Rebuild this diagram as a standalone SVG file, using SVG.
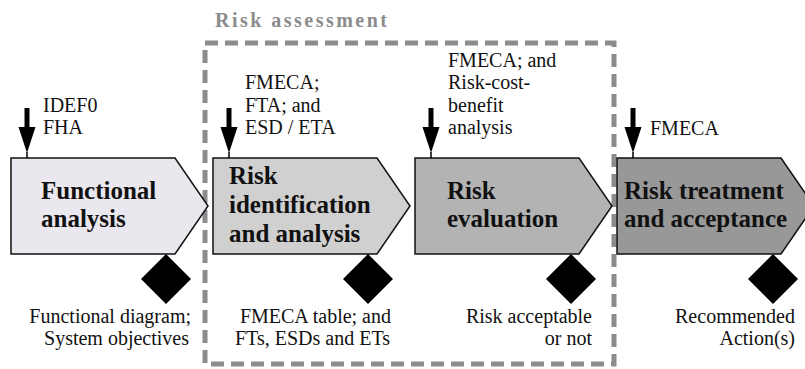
<svg xmlns="http://www.w3.org/2000/svg" xmlns:xlink="http://www.w3.org/1999/xlink" width="805" height="369" viewBox="0 0 805 369">
  <style>
    text { font-family: "Liberation Serif", "Liberation Sans", Arial, sans-serif; }
    .box { stroke: #111; stroke-width: 1.5; stroke-linejoin: miter; }
    .title { font-size: 25px; font-weight: bold; fill: #111; }
    .note { font-size: 20px; fill: #111; }
    .right { text-anchor: end; }
    .frame { fill: none; stroke: #8c8c8c; stroke-width: 5; stroke-dasharray: 13 7; }
    .frameLabel { font-size: 20px; font-weight: bold; fill: #8c8c8c; }
  </style>
  <defs>
    <!-- process step: rectangle with a pointed right end -->
    <path id="step" d="M0,0 H164 L197,48 L164,96 H0 Z"/>
    <!-- output marker -->
    <path id="outMark" d="M0,-25 L25,0 L0,25 L-25,0 Z" fill="#000"/>
    <!-- input arrow, drawn from its top (y=0) down to the step top (y=50) -->
    <g id="inArrow">
      <rect x="-2.5" y="0" width="5" height="20" fill="#000"/>
      <path d="M-8.5,19 L8.5,19 L0,45 Z" fill="#000"/>
      <line x1="0" y1="44" x2="0" y2="50" stroke="#000" stroke-width="1.5"/>
    </g>
  </defs>

  <rect width="805" height="369" fill="#fff"/>

  <!-- risk assessment boundary -->
  <g id="risk-assessment">
    <rect class="frame" x="205" y="43" width="409" height="321"/>
    <text class="frameLabel" x="215" y="27" textLength="172" lengthAdjust="spacing">Risk assessment</text>
  </g>

  <g id="functional-analysis">
    <use xlink:href="#step" class="box" transform="translate(11,158)" fill="#ebe7ef"/>
    <text class="title" x="41" y="199">Functional</text>
    <text class="title" x="41" y="227">analysis</text>
    <text class="note" x="43" y="112">IDEF0</text>
    <text class="note" x="43" y="134">FHA</text>
    <text class="note right" x="191" y="323">Functional diagram;</text>
    <text class="note right" x="189" y="345">System objectives</text>
  </g>

  <g id="risk-identification">
    <use xlink:href="#step" class="box" transform="translate(213,158)" fill="#d0d0d0"/>
    <text class="title" x="229" y="184">Risk</text>
    <text class="title" x="229" y="213">identification</text>
    <text class="title" x="229" y="242">and analysis</text>
    <text class="note" x="245" y="89">FMECA;</text>
    <text class="note" x="245" y="111.5">FTA; and</text>
    <text class="note" x="245" y="134">ESD / ETA</text>
    <text class="note right" x="391" y="323">FMECA table; and</text>
    <text class="note right" x="390" y="345">FTs, ESDs and ETs</text>
  </g>

  <g id="risk-evaluation">
    <use xlink:href="#step" class="box" transform="translate(415,158)" fill="#b3b3b3"/>
    <text class="title" x="447" y="199">Risk</text>
    <text class="title" x="447" y="227">evaluation</text>
    <text class="note" x="448" y="66.5">FMECA; and</text>
    <text class="note" x="448" y="89">Risk-cost-</text>
    <text class="note" x="448" y="111.5">benefit</text>
    <text class="note" x="448" y="134">analysis</text>
    <text class="note right" x="592" y="323">Risk acceptable</text>
    <text class="note right" x="592" y="345">or not</text>
  </g>

  <g id="risk-treatment">
    <use xlink:href="#step" class="box" transform="translate(617,158)" fill="#989898"/>
    <text class="title" x="624" y="199">Risk treatment</text>
    <text class="title" x="624" y="227">and acceptance</text>
    <text class="note" x="650" y="135">FMECA</text>
    <text class="note right" x="795" y="323">Recommended</text>
    <text class="note right" x="795" y="345">Action(s)</text>
  </g>

  <!-- inputs (arrows) and outputs (diamonds) -->
  <g id="connectors">
    <use xlink:href="#inArrow" transform="translate(27,108)"/>
    <use xlink:href="#inArrow" transform="translate(229,108)"/>
    <use xlink:href="#inArrow" transform="translate(431,108)"/>
    <use xlink:href="#inArrow" transform="translate(633,108)"/>
    <use xlink:href="#outMark" transform="translate(166,279)"/>
    <use xlink:href="#outMark" transform="translate(368,279)"/>
    <use xlink:href="#outMark" transform="translate(571,279)"/>
    <use xlink:href="#outMark" transform="translate(773,279)"/>
  </g>
</svg>
